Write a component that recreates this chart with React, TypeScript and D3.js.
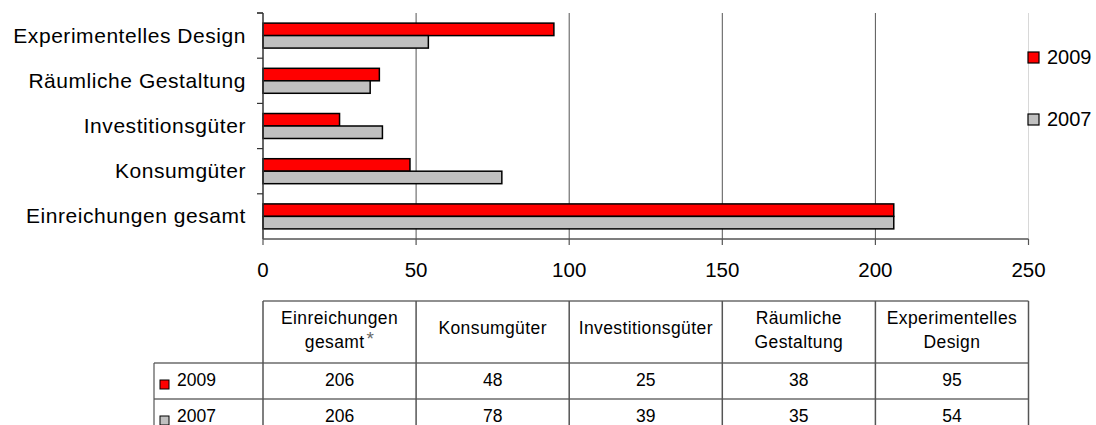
import React from 'react'
import * as d3 from 'd3'

// table order (chart draws them bottom-up)
const categories = ['Einreichungen gesamt', 'Konsumgüter', 'Investitionsgüter', 'Räumliche Gestaltung', 'Experimentelles Design']
const headerLines = [['Einreichungen', 'gesamt'], ['Konsumgüter'], ['Investitionsgüter'], ['Räumliche', 'Gestaltung'], ['Experimentelles', 'Design']]
const series = ['2009', '2007']
const values2009 = [206, 48, 25, 38, 95]
const values2007 = [206, 78, 39, 35, 54]
const xTicks = [0, 50, 100, 150, 200, 250]

const colors: Record<string, string> = { '2009': '#ff0000', '2007': '#c0c0c0' }
const font = 'Liberation Sans, Arial, sans-serif'

export default function App() {
  const W = 1096
  const H = 425
  const x = d3.scaleLinear().domain([0, 250]).range([263, 1028.5])
  const y = d3.scaleBand<string>().domain(categories).range([239, 13]).padding(0)
  const inner = d3.scaleBand<string>().domain(series).range([0, y.bandwidth()]).paddingOuter(0.81)
  const seriesValues: Record<string, number[]> = { '2009': values2009, '2007': values2007 }

  const bounds = categories.map(c => y(c)!).concat([13])
  const tableTop = 301
  const headBottom = 363
  const rowH = 36
  const tableLeft = 154

  return (
    <svg width={W} height={H} style={{ position: 'absolute', left: 0, top: 0, fontFamily: font }}>
      <rect width={W} height={H} fill="#fff" />
      {/* gridlines */}
      {xTicks.slice(1).map(t => (
        <line key={t} x1={x(t)} x2={x(t)} y1={13} y2={239} stroke={t === 250 ? '#d8d8d8' : '#555'} strokeWidth={1} />
      ))}
      {/* bars */}
      {categories.map((c, i) =>
        series.map(s => (
          <rect
            key={c + s}
            x={x(0)}
            y={y(c)! + inner(s)!}
            width={x(seriesValues[s][i]) - x(0)}
            height={inner.bandwidth()}
            fill={colors[s]}
            stroke="#000"
            strokeWidth={1.5}
          />
        ))
      )}
      {/* y axis */}
      <line x1={x(0)} x2={x(0)} y1={13} y2={239} stroke="#333" strokeWidth={1.5} />
      {bounds.map((b, i) => (
        <line key={i} x1={257} x2={x(0)} y1={b} y2={b} stroke="#333" strokeWidth={1.2} />
      ))}
      {categories.map(c => (
        <text key={c} x={246} y={y(c)! + y.bandwidth() / 2 + 7} textAnchor="end" fontSize={21} letterSpacing={0.55} fill="#000">
          {c}
        </text>
      ))}
      {/* x axis */}
      <line x1={x(0)} x2={x(250)} y1={239} y2={239} stroke="#555" strokeWidth={1.5} />
      {xTicks.map(t => (
        <g key={t}>
          <line x1={x(t)} x2={x(t)} y1={239} y2={245} stroke="#555" strokeWidth={1.2} />
          <text x={x(t)} y={277} textAnchor="middle" fontSize={20.5} fill="#000">
            {t}
          </text>
        </g>
      ))}
      {/* legend */}
      {series.map((s, i) => (
        <g key={s} transform={`translate(1028,${52 + i * 62})`}>
          <rect x={0} y={0} width={11} height={11} fill={colors[s]} stroke="#000" strokeWidth={1.2} />
          <text x={19} y={12} fontSize={20} fill="#000">
            {s}
          </text>
        </g>
      ))}
      {/* data table */}
      <line x1={x(0)} x2={x(250)} y1={tableTop} y2={tableTop} stroke="#222" strokeWidth={1.2} />
      {[headBottom, headBottom + rowH].map(yy => (
        <line key={yy} x1={tableLeft} x2={x(250)} y1={yy} y2={yy} stroke="#222" strokeWidth={1.2} />
      ))}
      <line x1={tableLeft} x2={tableLeft} y1={headBottom} y2={H} stroke="#555" strokeWidth={1.2} />
      {xTicks.map(t => (
        <line key={t} x1={x(t)} x2={x(t)} y1={tableTop} y2={H} stroke="#555" strokeWidth={1.5} />
      ))}
      {headerLines.map((lines, i) => {
        const cx = (x(xTicks[i]) + x(xTicks[i + 1])) / 2
        return (
          <g key={i}>
            {lines.map((ln, j) => (
              <text
                key={j}
                x={cx}
                y={lines.length === 1 ? 334 : 324 + j * 24}
                textAnchor="middle"
                fontSize={17.5}
                letterSpacing={0.4}
                fill="#000"
              >
                {ln}
                {i === 0 && j === 1 && (
                  <tspan fill="#666" fontSize={19} dy={-3} dx={2}>
                    *
                  </tspan>
                )}
              </text>
            ))}
          </g>
        )
      })}
      {series.map((s, r) => {
        const top = headBottom + r * rowH
        return (
          <g key={s}>
            <rect x={160} y={top + 17} width={9} height={9} fill={colors[s]} stroke="#000" strokeWidth={1} />
            <text x={177} y={top + 23} fontSize={17.5} fill="#000">
              {s}
            </text>
            {seriesValues[s].map((v, i) => (
              <text
                key={i}
                x={(x(xTicks[i]) + x(xTicks[i + 1])) / 2}
                y={top + 23}
                textAnchor="middle"
                fontSize={17.5}
                fill="#000"
              >
                {v}
              </text>
            ))}
          </g>
        )
      })}
    </svg>
  )
}
